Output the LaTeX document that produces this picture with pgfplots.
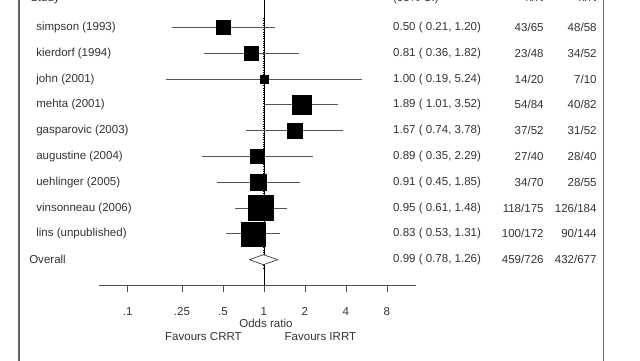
\documentclass[border=0pt]{standalone}
\usepackage{pgfplots}
\usepackage{pgfplotstable}
\usepackage{fontspec}
\setmainfont{Liberation Sans}
\pgfplotsset{compat=1.18}
\definecolor{txt}{HTML}{333333}
\definecolor{cil}{HTML}{555555}
\definecolor{frm}{HTML}{666666}

% y = pixel row (0 at top), or = estimate, s = half side of square in pt
\pgfplotstableread{
y     or    s
27.5  0.50  4.96
53.3  0.81  5.14
79.1  1.00  2.83
104.9 1.89  6.73
130.7 1.67  5.31
156.5 0.89  4.96
182.3 0.91  5.85
208.1 0.95  8.86
233.9 0.83  8.50
}\est

\pgfplotstableread{
x    y
0.21 27.5
1.20 27.5
nan  nan
0.36 53.3
1.82 53.3
nan  nan
0.19 79.1
5.24 79.1
nan  nan
1.01 104.9
3.52 104.9
nan  nan
0.74 130.7
3.78 130.7
nan  nan
0.35 156.5
2.29 156.5
nan  nan
0.45 182.3
1.85 182.3
nan  nan
0.61 208.1
1.48 208.1
nan  nan
0.53 233.9
1.31 233.9
}\cis

\begin{document}
\begin{tikzpicture}
\begin{axis}[
  at={(0,-9cm)}, anchor=south west,
  scale only axis, width=16cm, height=9cm,
  xmode=log, log basis x=2,
  xmin=0.011525, xmax=576.3,
  ymin=0, ymax=360, y dir=reverse,
  axis lines=none, clip=false,
  unbounded coords=jump,
]
% frame
\draw[frm, line width=0.8pt] (axis cs:0.0159,-10) -- (axis cs:0.0159,370);
\draw[frm, line width=0.8pt] (axis cs:310,-10) -- (axis cs:310,370);
% null line
\draw[black, line width=0.7pt] (axis cs:1,-10) -- (axis cs:1,285);
% overall estimate dotted line
\draw[black, line width=0.6pt, densely dotted] (axis cs:0.99,18) -- (axis cs:0.99,268);
% CI lines
\addplot[cil, line width=0.7pt, no marks] table[x=x, y=y] {\cis};
% squares
\addplot[scatter, only marks, mark=square*, point meta=\thisrow{s},
  scatter/use mapped color={draw=black, fill=black},
  visualization depends on={\thisrow{s} \as \msz},
  scatter/@pre marker code/.append style={/tikz/mark size=\msz}]
  table[x=or, y=y] {\est};
% overall diamond
\addplot[black!75, line width=0.5pt, fill=white, no marks]
  coordinates {(0.78,259.7) (0.99,254.7) (1.26,259.7) (0.99,264.7) (0.78,259.7)};
% x axis
\draw[black!70, line width=0.7pt] (axis cs:0.0615,285) -- (axis cs:13.06,285);
\pgfplotsinvokeforeach{0.1,0.25,0.5,1,2,4,8}{
  \draw[black!70, line width=0.6pt] (axis cs:#1,286) -- (axis cs:#1,292);
}
\end{axis}

\begin{scope}[x=0.025cm, y=-0.025cm, font=\fontsize{8.2}{10}\selectfont, text=txt]
% headers (cut by the top edge)
\node[anchor=base west, inner sep=0] at (30,1) {Study};
\node[anchor=base west, inner sep=0] at (393,1) {(95\% CI)};
\node[anchor=base east, inner sep=0] at (544,1) {n/N};
\node[anchor=base east, inner sep=0] at (597,1) {n/N};
% study labels
\foreach \n/\yy in {simpson (1993)/27.5, kierdorf (1994)/53.3, john (2001)/79.1,
  mehta (2001)/104.9, gasparovic (2003)/130.7, augustine (2004)/156.5,
  uehlinger (2005)/182.3, vinsonneau (2006)/208.1, lins (unpublished)/233.9}
  {\node[anchor=west, inner sep=0] at (36,\yy) {\n};}
\node[anchor=west, inner sep=0] at (29,259.7) {Overall};
% CI text
\foreach \t/\yy in {0.50 ( 0.21{,} 1.20)/27.5, 0.81 ( 0.36{,} 1.82)/53.3,
  1.00 ( 0.19{,} 5.24)/79.1, 1.89 ( 1.01{,} 3.52)/104.9, 1.67 ( 0.74{,} 3.78)/130.7,
  0.89 ( 0.35{,} 2.29)/156.5, 0.91 ( 0.45{,} 1.85)/182.3, 0.95 ( 0.61{,} 1.48)/208.1,
  0.83 ( 0.53{,} 1.31)/233.9, 0.99 ( 0.78{,} 1.26)/259.7}
  {\node[anchor=west, inner sep=0] at (393,\yy) {\t};}
% n/N columns
\foreach \a/\b/\yy in {43/65/48/58/27.5}{}
\foreach \a/\b/\yy in {{43/65}/{48/58}/27.5, {23/48}/{34/52}/53.3, {14/20}/{7/10}/79.1,
  {54/84}/{40/82}/104.9, {37/52}/{31/52}/130.7, {27/40}/{28/40}/156.5,
  {34/70}/{28/55}/182.3, {118/175}/{126/184}/208.1, {100/172}/{90/144}/233.9,
  {459/726}/{432/677}/259.7}
  {\node[anchor=east, inner sep=0] at (544,\yy) {\a};
   \node[anchor=east, inner sep=0] at (597,\yy) {\b};}
% tick labels
\node[inner sep=0] at (127.8,312) {.1};
\node[inner sep=0] at (182,312) {.25};
\node[inner sep=0] at (223,312) {.5};
\node[inner sep=0] at (264,312) {1};
\node[inner sep=0] at (305,312) {2};
\node[inner sep=0] at (346,312) {4};
\node[inner sep=0] at (387,312) {8};
\node[inner sep=0] at (266,323) {Odds ratio};
\node[inner sep=0] at (203.5,337) {Favours CRRT};
\node[inner sep=0] at (320.5,337) {Favours IRRT};
\end{scope}
\pgfresetboundingbox
\path (0,0) rectangle (16cm,-9cm);
\end{tikzpicture}
\end{document}
